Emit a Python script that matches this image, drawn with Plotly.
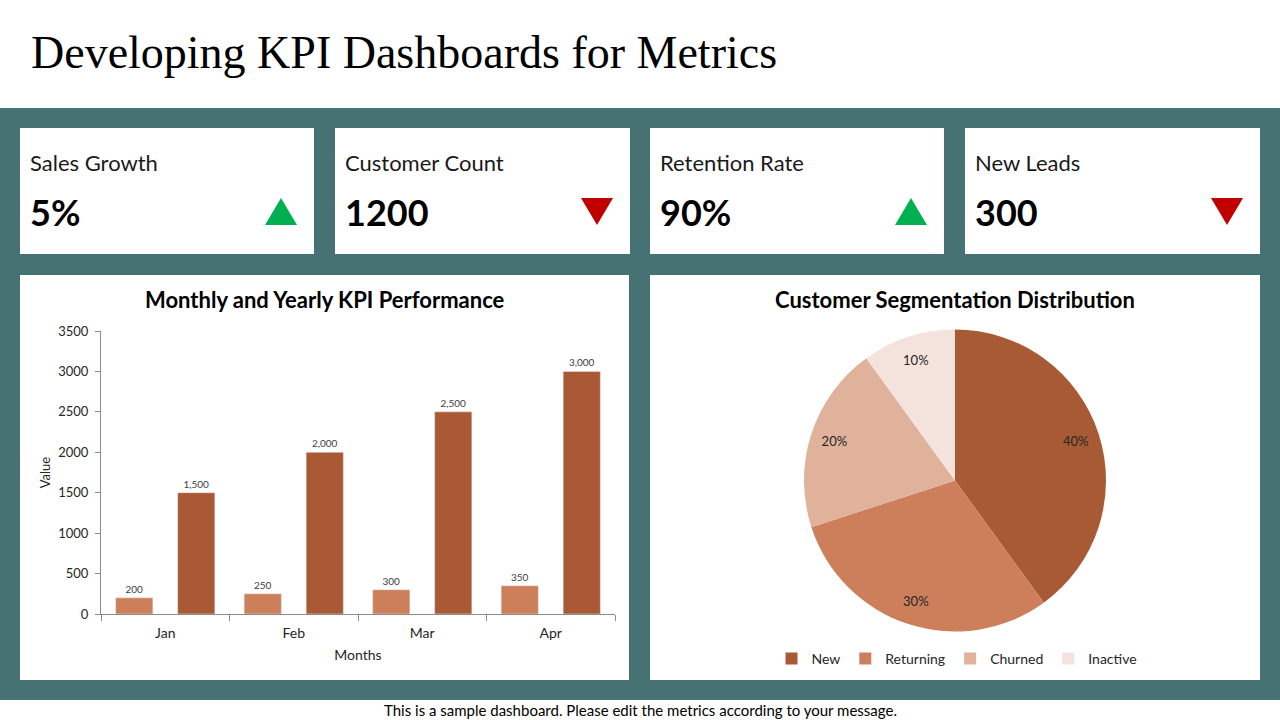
import plotly.graph_objects as go

# ---- data ----
kpi_names = ["Sales Growth", "Customer Count", "Retention Rate", "New Leads"]
kpi_values = ["5%", "1200", "90%", "300"]
kpi_trends = ["up", "down", "up", "down"]

months = ["Jan", "Feb", "Mar", "Apr"]
monthly_values = [200, 250, 300, 350]
yearly_values = [1500, 2000, 2500, 3000]

segments = ["New", "Returning", "Churned", "Inactive"]
segment_shares = [40, 30, 20, 10]

W, H = 1280, 720
TEAL = "#477273"
FONT = "Lato"
PIE_COLORS = ["#A85A35", "#CC7F5A", "#E0B29B", "#F4E3DD"]


def px(x):
    return x / W


def py(y):
    return 1 - y / H


fig = go.Figure()

# bars
fig.add_trace(go.Bar(
    x=months, y=monthly_values, name="Monthly",
    marker_color="#CD7F5A", text=[f"{v:,}" for v in monthly_values],
    textposition="outside", textfont=dict(size=10, color="#404040", family=FONT),
    cliponaxis=False, showlegend=False,
))
fig.add_trace(go.Bar(
    x=months, y=yearly_values, name="Yearly",
    marker_color="#A95A35", text=[f"{v:,}" for v in yearly_values],
    textposition="outside", textfont=dict(size=10, color="#404040", family=FONT),
    cliponaxis=False, showlegend=False,
))

pie_domain = dict(x=[px(804), px(1106)], y=[py(632), py(329)])
# pie (filled slices)
fig.add_trace(go.Pie(
    labels=segments, values=segment_shares, sort=False, direction="clockwise",
    rotation=0,
    marker=dict(colors=PIE_COLORS, line=dict(color="white", width=0)),
    textinfo="none",
    domain=pie_domain, showlegend=True,
))
# transparent ring carrying the percent labels near the rim
fig.add_trace(go.Pie(
    labels=segments, values=segment_shares, sort=False, direction="clockwise",
    rotation=0, hole=0.68,
    marker=dict(colors=["rgba(0,0,0,0)"] * len(segments), line=dict(width=0)),
    textinfo="percent", textposition="inside", insidetextorientation="horizontal",
    textfont=dict(size=13, color="#262626", family=FONT),
    domain=pie_domain, showlegend=False, hoverinfo="skip",
))

shapes = []
# teal band
shapes.append(dict(type="rect", xref="paper", yref="paper", x0=0, x1=1,
                   y0=py(700), y1=py(108), fillcolor=TEAL, line_width=0, layer="below"))
card_x = [(20, 314), (335, 630), (650, 944), (965, 1260)]
for (x0, x1) in card_x:
    shapes.append(dict(type="rect", xref="paper", yref="paper", x0=px(x0), x1=px(x1),
                       y0=py(254), y1=py(128), fillcolor="white", line_width=0, layer="below"))
for (x0, x1) in [(20, 629), (650, 1260)]:
    shapes.append(dict(type="rect", xref="paper", yref="paper", x0=px(x0), x1=px(x1),
                       y0=py(680), y1=py(275), fillcolor="white", line_width=0, layer="below"))

annotations = []
for i, (name, val, trend) in enumerate(zip(kpi_names, kpi_values, kpi_trends)):
    x0, x1 = card_x[i]
    annotations.append(dict(text=name, x=px(x0 + 8), y=py(163), xref="paper", yref="paper",
                            xanchor="left", yanchor="middle", showarrow=False,
                            font=dict(size=22, color="#1a1a1a", family=FONT)))
    annotations.append(dict(text=f"<b>{val}</b>", x=px(x0 + 8), y=py(212), xref="paper", yref="paper",
                            xanchor="left", yanchor="middle", showarrow=False,
                            font=dict(size=36, color="#000000", family=FONT)))
    tx0, tx1 = x1 - 49, x1 - 17
    cx = (tx0 + tx1) / 2
    if trend == "up":
        path = f"M {px(tx0)} {py(225)} L {px(tx1)} {py(225)} L {px(cx)} {py(198)} Z"
        col = "#00B050"
    else:
        path = f"M {px(tx0)} {py(198)} L {px(tx1)} {py(198)} L {px(cx)} {py(225)} Z"
        col = "#C00000"
    shapes.append(dict(type="path", xref="paper", yref="paper", path=path,
                       fillcolor=col, line_width=0))

annotations += [
    dict(text="Developing KPI Dashboards for Metrics", x=px(29), y=py(53), xref="paper", yref="paper",
         xanchor="left", yanchor="middle", showarrow=False,
         font=dict(size=46, color="#000000", family="Liberation Serif")),
    dict(text="<b>Monthly and Yearly KPI Performance</b>", x=px(325), y=py(299), xref="paper",
         yref="paper", xanchor="center", yanchor="middle", showarrow=False,
         font=dict(size=22, color="#000000", family=FONT)),
    dict(text="<b>Customer Segmentation Distribution</b>", x=px(955), y=py(299), xref="paper",
         yref="paper", xanchor="center", yanchor="middle", showarrow=False,
         font=dict(size=22, color="#000000", family=FONT)),
    dict(text="This is a sample dashboard. Please edit the metrics according to your message.",
         x=px(640), y=py(710), xref="paper", yref="paper", xanchor="center", yanchor="middle",
         showarrow=False, font=dict(size=15, color="#000000", family=FONT)),
]

fig.update_layout(
    width=W, height=H, margin=dict(l=0, r=0, t=0, b=0, autoexpand=False),
    paper_bgcolor="white", plot_bgcolor="rgba(0,0,0,0)",
    barmode="group", bargap=0.035, bargroupgap=0.4,
    shapes=shapes, annotations=annotations,
    font=dict(family=FONT, color="#404040"),
    xaxis=dict(domain=[px(101), px(615)], showline=True, linecolor="#8c8c8c", linewidth=1,
               ticks="outside", tickson="boundaries", ticklen=6, tickcolor="#8c8c8c",
               tickfont=dict(size=14, color="#262626"), ticklabelstandoff=6,
               title=dict(text="Months", font=dict(size=14, color="#262626"), standoff=10),
               showgrid=False, zeroline=False, fixedrange=True, automargin=False),
    yaxis=dict(domain=[py(614), py(331)], range=[0, 3500], dtick=500, showline=True,
               linecolor="#8c8c8c", linewidth=1, ticks="outside", ticklen=5, tickcolor="#8c8c8c",
               tickfont=dict(size=13, color="#262626"), showgrid=False, zeroline=False,
               ticklabelstandoff=4, automargin=False,
               title=dict(text="Value", font=dict(size=13, color="#262626"), standoff=4)),
    legend=dict(orientation="h", x=px(957), xanchor="center", y=py(659), yanchor="middle",
                font=dict(size=14, color="#262626", family=FONT), bgcolor="rgba(0,0,0,0)",
                itemwidth=30, traceorder="normal"),
)

fig.write_html("out.html")
